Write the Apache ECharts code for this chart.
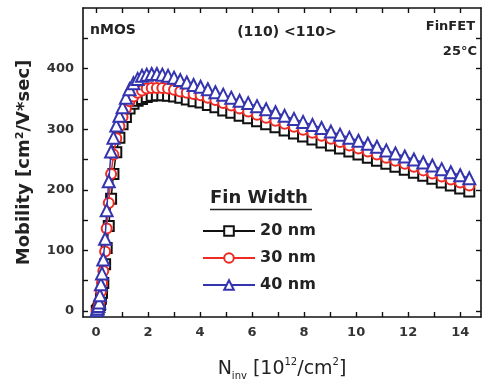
<!DOCTYPE html>
<html>
<head>
<meta charset="utf-8">
<script src="https://cdn.jsdelivr.net/npm/echarts@6/dist/echarts.min.js"></script>
<style>
html,body{margin:0;padding:0;background:#fff;}
#chart{width:485px;height:386px;}
</style>
</head>
<body>
<div id="chart"></div>
<script>
// Ninv [10^12/cm^2]
var ninv = [0.03,0.06,0.09,0.12,0.15,0.19,0.23,0.28,0.35,0.41,
            0.49,0.58,0.67,0.78,0.90,1.02,1.15,1.29,1.44,1.60,
            1.77,1.95,2.14,2.34,2.55,2.77,3.00,3.24,3.49,3.75,
            4.02,4.30,4.59,4.89,5.20,5.52,5.85,6.19,6.54,6.90,
            7.25,7.61,7.96,8.32,8.67,9.03,9.38,9.74,10.09,10.45,
            10.80,11.16,11.51,11.87,12.22,12.58,12.93,13.29,13.64,14.00,
            14.35];
// Mobility [cm^2/V*sec]
var mu20 = [0,1,3,6,10,20,30,46,77,104,
            140,185,226,262,286,308,320,334,342,347,
            350,353,355,356,356,355,354,352,349,346,
            344,340,336,331,327,322,318,313,308,303,
            298,293,288,283,278,273,268,263,258,253,
            248,243,238,233,228,223,218,212,207,202,
            197];
var mu30 = [0,2,5,10,16,32,46,66,98,136,
            178,226,258,285,305,320,334,346,354,360,
            364,367,368,368,368,367,365,362,360,358,
            356,352,348,343,339,334,329,324,319,314,
            309,304,299,294,289,284,279,273,268,263,
            258,253,248,243,238,232,227,222,217,212,
            207];
var mu40 = [1,4,8,14,26,44,62,85,119,166,
            214,263,286,306,322,336,352,366,376,383,
            388,390,391,391,390,388,385,381,377,373,
            370,366,361,357,352,347,343,338,333,328,
            322,317,312,307,302,296,291,286,281,276,
            271,265,260,255,250,245,240,234,229,224,
            219];
var seriesNames = ['20 nm','30 nm','40 nm'];
var xTicks = [0,1,2,3,4,5,6,7,8,9,10,11,12,13,14];
var xLabels = [0,2,4,6,8,10,12,14];
var yTicks = [0,50,100,150,200,250,300,350,400,450];
var yLabels = [0,100,200,300,400];

function pairs(xs, ys){ return xs.map(function(x,i){ return [x, ys[i]]; }); }

var FONT = 'DejaVu Sans';
var chart = echarts.init(document.getElementById('chart'), null, {renderer:'canvas'});

function axisCommon(pos, ticks, labels, showLabel){
  return {
    type:'value', position: pos,
    axisLine:{show:true, onZero:false, lineStyle:{color:'#111', width:1.6}},
    axisTick:{show:true, inside:true, length:5, customValues: ticks, lineStyle:{color:'#111', width:1.4}},
    axisLabel:{show:showLabel, customValues: labels, fontFamily:FONT, fontWeight:'bold', fontSize:13, color:'#333', margin:9},
    splitLine:{show:false}
  };
}

var xa = axisCommon('bottom', xTicks, xLabels, true);
xa.min = -0.5; xa.max = 14.8;
xa.name = '{a|N}{s|inv}{a| [10}{p|12}{a|/cm}{p|2}{a|]}';
xa.nameLocation = 'middle';
xa.nameGap = 40;
xa.nameTextStyle = {
  rich:{
    a:{fontFamily:FONT, fontSize:19, color:'#222', lineHeight:24},
    s:{fontFamily:FONT, fontSize:10, color:'#222', lineHeight:10, verticalAlign:'bottom'},
    p:{fontFamily:FONT, fontSize:10, color:'#222', lineHeight:10, verticalAlign:'top'}
  }
};
var xt = axisCommon('top', xTicks, xLabels, false);
xt.min = -0.5; xt.max = 14.8;

var ya = axisCommon('left', yTicks, yLabels, true);
ya.min = -10; ya.max = 500;
ya.name = 'Mobility [cm²/V*sec]';
ya.nameLocation = 'middle';
ya.nameRotate = 90;
ya.nameGap = 50;
ya.nameTextStyle = {fontFamily:FONT, fontWeight:'bold', fontSize:18, color:'#222'};
var yr = axisCommon('right', yTicks, yLabels, false);
yr.min = -10; yr.max = 500;

var colors = ['#111111', '#ee2b22', '#3434ae'];
var symbols = ['emptyRect', 'emptyCircle', 'emptyTriangle'];
var sizes = [10, 10, 12];
var datas = [mu20, mu30, mu40];

var series = datas.map(function(d, i){
  return {
    name: seriesNames[i], type:'line',
    xAxisIndex:0, yAxisIndex:0,
    data: pairs(ninv, d),
    symbol: symbols[i], symbolSize: sizes[i],
    showAllSymbol: true,
    lineStyle:{color:colors[i], width:1.5},
    itemStyle:{color:colors[i], borderColor:colors[i], borderWidth:1.7},
    z: 2 + i,
    animation:false
  };
});

chart.setOption({
  animation:false,
  backgroundColor:'#fff',
  grid:{left:83, right:4, top:8, bottom:65, containLabel:false},
  xAxis:[xa, xt],
  yAxis:[ya, yr],
  legend:{
    data: seriesNames,
    orient:'vertical', left:197, top:217,
    itemWidth:52, itemHeight:12, itemGap:9,
    textStyle:{fontFamily:FONT, fontWeight:'bold', fontSize:16, color:'#222', lineHeight:18},
    selectedMode:false
  },
  graphic:[
    {type:'text', left:90, top:23, style:{text:'nMOS', font:'bold 14px "DejaVu Sans"', fill:'#222'}},
    {type:'text', x:287, y:32, style:{text:'(110) <110>', font:'bold 14px "DejaVu Sans"', fill:'#222', align:'center', verticalAlign:'middle'}},
    {type:'text', x:475, y:27, style:{text:'FinFET', font:'bold 13px "DejaVu Sans"', fill:'#222', align:'right', verticalAlign:'middle'}},
    {type:'text', x:477, y:52, style:{text:'25°C', font:'bold 13px "DejaVu Sans"', fill:'#222', align:'right', verticalAlign:'middle'}},
    {type:'text', x:210, y:198, style:{text:'Fin Width', font:'bold 18px "DejaVu Sans"', fill:'#222', align:'left', verticalAlign:'middle'}},
    {type:'line', shape:{x1:210, y1:209.5, x2:312, y2:209.5}, style:{stroke:'#222', lineWidth:1.6}}
  ],
  series: series
});
</script>
</body>
</html>
